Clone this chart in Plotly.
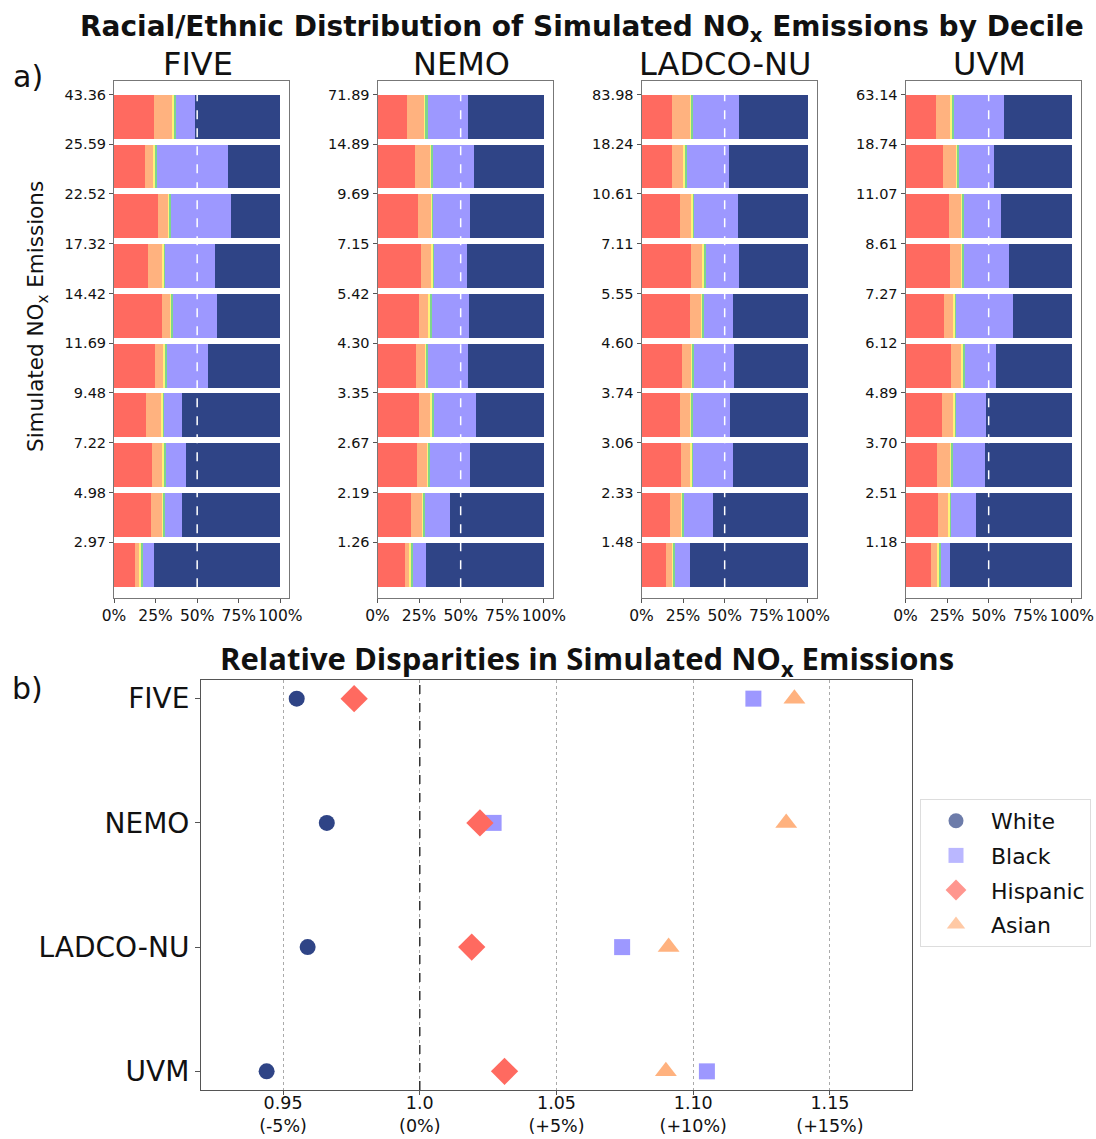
import plotly.graph_objects as go

W, H = 1096, 1139

# ---------------- data: panel a (percent share by decile, top = highest decile) ----------------
models = ["FIVE", "NEMO", "LADCO-NU", "UVM"]
groups = ["Hispanic", "Asian", "Other", "Multiracial", "Black", "White"]
group_colors = ["#FF6A60", "#FFB27F", "#FFF37A", "#7ED68C", "#9D98FF", "#2F4486"]

five_labels = ["43.36", "25.59", "22.52", "17.32", "14.42", "11.69", "9.48", "7.22", "4.98", "2.97"]
five_hispanic = [24.0, 18.8, 26.5, 20.4, 28.7, 24.6, 19.4, 22.8, 22.0, 12.8]
five_asian = [10.9, 4.8, 6.0, 8.3, 5.4, 5.1, 8.7, 6.1, 6.7, 2.4]
five_other = [1.2, 0.8, 0.8, 1.4, 0.6, 1.2, 1.4, 1.4, 1.2, 1.2]
five_multi = [1.4, 1.2, 1.0, 0.8, 0.8, 0.8, 0.4, 0.8, 1.0, 0.8]
five_black = [11.2, 43.1, 35.8, 29.6, 26.6, 24.6, 11.2, 12.4, 10.2, 7.0]
five_white = [51.3, 31.3, 29.9, 39.5, 37.9, 43.7, 58.9, 56.5, 58.9, 75.8]

nemo_labels = ["71.89", "14.89", "9.69", "7.15", "5.42", "4.30", "3.35", "2.67", "2.19", "1.26"]
nemo_hispanic = [17.6, 22.0, 24.0, 25.6, 24.8, 22.8, 24.8, 23.2, 20.0, 16.2]
nemo_asian = [10.2, 9.4, 8.0, 6.8, 5.4, 5.4, 6.8, 6.6, 6.2, 3.0]
nemo_other = [1.0, 1.0, 0.6, 1.0, 1.2, 1.2, 1.0, 0.8, 1.4, 1.0]
nemo_multi = [1.2, 0.8, 0.6, 0.4, 0.8, 0.6, 0.8, 0.8, 0.4, 1.0]
nemo_black = [24.0, 24.4, 22.2, 19.8, 22.6, 24.0, 25.8, 24.2, 15.2, 7.8]
nemo_white = [46.0, 42.4, 44.6, 46.4, 45.2, 46.0, 40.8, 44.4, 56.8, 71.0]

ladco_labels = ["83.98", "18.24", "10.61", "7.11", "5.55", "4.60", "3.74", "3.06", "2.33", "1.48"]
ladco_hispanic = [18.0, 18.0, 22.8, 29.3, 28.9, 24.0, 22.6, 23.2, 16.6, 14.4]
ladco_asian = [10.7, 7.1, 7.1, 7.0, 6.6, 5.3, 6.3, 6.1, 7.2, 3.6]
ladco_other = [1.2, 1.0, 1.0, 1.4, 1.0, 1.2, 1.0, 0.8, 0.8, 1.2]
ladco_multi = [1.0, 1.0, 0.6, 0.8, 0.6, 1.0, 0.8, 0.6, 0.7, 0.6]
ladco_black = [27.2, 25.4, 26.0, 20.0, 17.8, 23.8, 22.0, 24.0, 17.6, 8.9]
ladco_white = [41.9, 47.5, 42.5, 41.5, 45.1, 44.7, 47.3, 45.3, 57.1, 71.3]

uvm_labels = ["63.14", "18.74", "11.07", "8.61", "7.27", "6.12", "4.89", "3.70", "2.51", "1.18"]
uvm_hispanic = [17.8, 22.4, 26.1, 26.5, 23.0, 27.3, 21.8, 18.6, 19.2, 15.2]
uvm_asian = [9.1, 7.7, 7.0, 6.6, 5.5, 6.2, 6.7, 7.9, 6.1, 4.0]
uvm_other = [1.2, 0.8, 1.0, 0.8, 1.0, 1.0, 1.0, 1.0, 1.2, 1.0]
uvm_multi = [1.0, 1.0, 0.8, 1.0, 0.8, 0.8, 0.8, 0.8, 0.6, 0.6]
uvm_black = [29.8, 21.0, 22.2, 27.0, 33.8, 19.0, 17.8, 19.4, 15.2, 5.9]
uvm_white = [41.1, 47.1, 42.9, 38.1, 35.9, 45.7, 51.9, 52.3, 57.7, 73.3]

# ---------------- data: panel b (relative disparity ratios) ----------------
disp_models = ["FIVE", "NEMO", "LADCO-NU", "UVM"]
white_ratio = [0.955, 0.966, 0.959, 0.944]
black_ratio = [1.122, 1.027, 1.074, 1.105]
hispanic_ratio = [0.976, 1.022, 1.019, 1.031]
asian_ratio = [1.137, 1.134, 1.091, 1.090]
ratio_ticks = [0.95, 1.0, 1.05, 1.10, 1.15]
ratio_ticktext = ["0.95<br>(-5%)", "1.0<br>(0%)", "1.05<br>(+5%)", "1.10<br>(+10%)", "1.15<br>(+15%)"]

panels = [
    (five_labels, [five_hispanic, five_asian, five_other, five_multi, five_black, five_white]),
    (nemo_labels, [nemo_hispanic, nemo_asian, nemo_other, nemo_multi, nemo_black, nemo_white]),
    (ladco_labels, [ladco_hispanic, ladco_asian, ladco_other, ladco_multi, ladco_black, ladco_white]),
    (uvm_labels, [uvm_hispanic, uvm_asian, uvm_other, uvm_multi, uvm_black, uvm_white]),
]

TICKFONT = "DejaVu Sans"
fig = go.Figure()

# panel geometry (pixels)
panel_left = [114, 377.5, 641.5, 905.5]
panel_w = 175
top_y0, top_y1 = 80.5, 597.5
bot_x0, bot_x1 = 201, 912
bot_y0, bot_y1 = 680, 1090

def px_x(v):
    return v / W

def px_y(v):
    return 1 - v / H

layout_axes = {}
for i, (labels, series) in enumerate(panels):
    n = i + 1
    xa = "x" if n == 1 else f"x{n}"
    ya = "y" if n == 1 else f"y{n}"
    pos = list(range(len(labels)))
    for g, vals, col in zip(groups, series, group_colors):
        fig.add_trace(go.Bar(
            x=[v / 100 for v in vals], y=pos, orientation="h",
            width=0.88, offset=0, marker=dict(color=col, line=dict(width=0)),
            name=g, showlegend=False, xaxis=xa, yaxis=ya,
        ))
    layout_axes[f"xaxis{n}"] = dict(
        domain=[px_x(panel_left[i]), px_x(panel_left[i] + panel_w)],
        range=[0, 1.052], tickvals=[0, 0.25, 0.5, 0.75, 1.0],
        ticktext=["0%", "25%", "50%", "75%", "100%"],
        showgrid=False, zeroline=False, showline=True, mirror=True,
        linecolor="#777", linewidth=1, ticks="outside", ticklen=4, tickcolor="#555",
        tickfont=dict(family=TICKFONT, size=15.5, color="#111"), anchor=ya,
    )
    layout_axes[f"yaxis{n}"] = dict(
        domain=[px_y(top_y1), px_y(top_y0)],
        range=[10.11, -0.28], tickvals=pos, ticktext=labels,
        showgrid=False, zeroline=False, showline=True, mirror=True,
        linecolor="#777", linewidth=1, ticks="outside", ticklen=4, tickcolor="#555",
        tickfont=dict(family=TICKFONT, size=14.5, color="#111"), anchor=xa,
    )
    fig.add_shape(type="line", xref=xa, yref=f"{ya} domain", x0=0.5, x1=0.5,
                  y0=0.02, y1=0.975, line=dict(color="white", width=1.5, dash="dash"),
                  layer="above")

# panel b
markers = [
    ("White", white_ratio, "circle", "#2F4486", 16),
    ("Black", black_ratio, "square", "#9D98FF", 16),
    ("Hispanic", hispanic_ratio, "diamond", "#FF6A60", 21),
    ("Asian", asian_ratio, "triangle-up", "#FFB27F", 19),
]
for name, vals, sym, col, sz in markers:
    fig.add_trace(go.Scatter(
        x=vals, y=disp_models, mode="markers", name=name, showlegend=False,
        marker=dict(symbol=sym, color=col, size=sz, line=dict(width=0)),
        xaxis="x5", yaxis="y5",
    ))
for gi, (name, vals, sym, col, sz) in enumerate(markers):
    fig.add_trace(go.Scatter(
        x=[None], y=[None], mode="markers", name=name, legendgroup=f"g{gi}",
        marker=dict(symbol=sym, color=col, size=sz - 1, opacity=0.7, line=dict(width=0)),
        xaxis="x5", yaxis="y5",
    ))

layout_axes["xaxis5"] = dict(
    domain=[px_x(bot_x0), px_x(bot_x1)], range=[0.92, 1.18],
    tickvals=ratio_ticks, ticktext=ratio_ticktext,
    showgrid=True, gridcolor="#AAAAAA", griddash="dot", gridwidth=1,
    zeroline=False, showline=True, mirror=True, linecolor="#555", linewidth=1,
    ticks="outside", ticklen=4, tickcolor="#555", ticklabelstandoff=-7,
    tickfont=dict(family=TICKFONT, size=17.5, color="#111"), anchor="y5",
)
layout_axes["yaxis5"] = dict(
    domain=[px_y(bot_y1), px_y(bot_y0)], type="category",
    categoryorder="array", categoryarray=disp_models, range=[3.15, -0.15],
    showgrid=False, zeroline=False, showline=True, mirror=True,
    linecolor="#555", linewidth=1, ticks="outside", ticklen=5, tickcolor="#555",
    tickfont=dict(family=TICKFONT, size=28, color="#111"), anchor="x5",
)
fig.add_shape(type="line", xref="x5", yref="y5 domain", x0=1.0, x1=1.0, y0=0, y1=1,
              line=dict(color="#333", width=1.5, dash="dash"), layer="above")

annotations = [
    dict(text="<b>Racial/Ethnic Distribution of Simulated NO<sub>x</sub> Emissions by Decile</b>",
         x=px_x(582), y=px_y(28), font=dict(family="DejaVu Sans", size=28, color="#111")),
    dict(text="<b>Relative Disparities in Simulated NO<sub>x</sub> Emissions</b>",
         x=px_x(587), y=px_y(660), font=dict(family="Open Sans", size=31, color="#111")),
    dict(text="a)", x=px_x(28), y=px_y(76), font=dict(family=TICKFONT, size=30, color="#111")),
    dict(text="b)", x=px_x(27), y=px_y(688), font=dict(family=TICKFONT, size=30, color="#111")),
    dict(text="Simulated NO<sub>x</sub> Emissions", x=px_x(38), y=px_y(317), textangle=-90,
         font=dict(family=TICKFONT, size=21.5, color="#111")),
]
for i, m in enumerate(models):
    annotations.append(dict(text=m, x=px_x(panel_left[i] + panel_w / 2 - 4), y=px_y(64),
                            font=dict(family="DejaVu Sans", size=32, color="#111")))
for a in annotations:
    a.update(xref="paper", yref="paper", showarrow=False, xanchor="center", yanchor="middle")

fig.update_layout(
    width=W, height=H, margin=dict(l=0, r=0, t=0, b=0, autoexpand=False),
    paper_bgcolor="white", plot_bgcolor="white", barmode="stack", bargap=0,
    annotations=annotations, showlegend=True,
    legend=dict(x=px_x(920), y=px_y(799), xanchor="left", yanchor="top",
                bordercolor="#DDDDDD", borderwidth=1, bgcolor="white",
                font=dict(family=TICKFONT, size=22, color="#111"),
                traceorder="grouped", tracegroupgap=3, itemwidth=60),
    **layout_axes,
)

fig.write_html("out.html")
